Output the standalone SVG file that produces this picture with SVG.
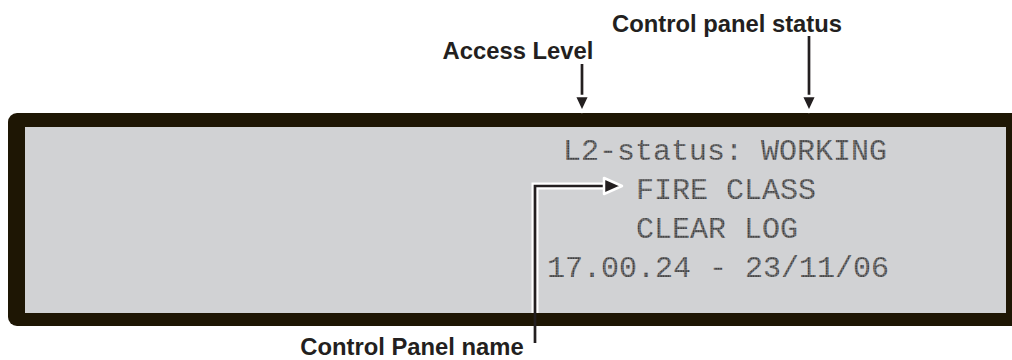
<svg xmlns="http://www.w3.org/2000/svg" width="1012" height="360" viewBox="0 0 1012 360">
<defs>
<pattern id="dots" width="2.5" height="2.5" patternUnits="userSpaceOnUse">
<rect width="2.5" height="2.5" fill="#8a8a8c"/>
<rect x="0.3" y="0.3" width="1.7" height="1.7" fill="#2a2a2a"/>
</pattern>
</defs>
<style>
.lbl{font-family:"Liberation Sans",Arial,sans-serif;font-weight:bold;font-size:23.8px;fill:#231f20}
.lcd{font-family:"Liberation Mono","DejaVu Sans Mono",monospace;font-size:30px;fill:url(#dots)}
.halo{fill:none;stroke:#fff;stroke-width:7;stroke-linejoin:miter}
.line{fill:none;stroke:#231f20;stroke-width:2.7}
.head{fill:#231f20;stroke:#fff;stroke-width:2.5;stroke-linejoin:round}
</style>
<rect width="1012" height="360" fill="#fff"/>
<g id="display">
<rect x="8" y="113" width="1020" height="213" rx="9" fill="#1e1604"/>
<rect x="25" y="127" width="981" height="186" fill="#d1d2d4"/>
<text class="lcd" x="563" y="160">L2-status: WORKING</text>
<text class="lcd" x="636" y="199">FIRE CLASS</text>
<text class="lcd" x="636" y="238">CLEAR LOG</text>
<text class="lcd" x="547" y="277">17.00.24 - 23/11/06</text>
</g>
<g id="label-access-level"><text class="lbl" x="518" y="59" text-anchor="middle">Access Level</text></g>
<g id="label-status"><text class="lbl" x="727" y="32" text-anchor="middle">Control panel status</text></g>
<g id="label-name"><text class="lbl" x="412" y="355" text-anchor="middle">Control Panel name</text></g>
<g id="connectors">
<line class="line" x1="582" y1="64" x2="582" y2="98"/>
<polygon class="head" points="574.5,96 589.5,96 582,112"/>
<line class="line" x1="809" y1="36" x2="809" y2="98"/>
<polygon class="head" points="801.5,96 816.5,96 809,112"/>
<path class="halo" d="M535,313 V186 H606"/>
<path class="line" d="M535,343 V186 H606"/>
<polygon class="head" points="604,178 604,194 622,186"/>
</g>
</svg>
